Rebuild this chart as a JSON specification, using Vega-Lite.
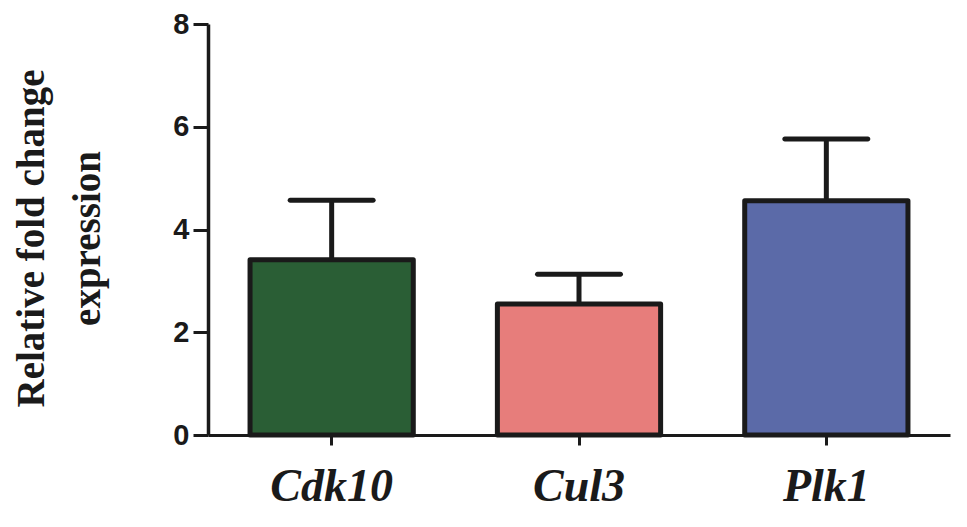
{
  "$schema": "https://vega.github.io/schema/vega-lite/v6.json",
  "width": 742,
  "height": 411,
  "autosize": {"type": "none"},
  "padding": {"left": 208, "top": 24, "right": 17, "bottom": 92},
  "background": "white",
  "config": {
    "view": {"stroke": null},
    "axis": {"grid": false, "domainColor": "#1a1a1a", "tickColor": "#1a1a1a", "labelColor": "#1a1a1a", "titleColor": "#1a1a1a"}
  },
  "data": {
    "values": [
      {"gene": "Cdk10", "value": 3.41, "upper": 4.57},
      {"gene": "Cul3", "value": 2.55, "upper": 3.13},
      {"gene": "Plk1", "value": 4.56, "upper": 5.76}
    ]
  },
  "encoding": {
    "x": {
      "field": "gene",
      "type": "nominal",
      "sort": ["Cdk10", "Cul3", "Plk1"],
      "scale": {"paddingInner": 0.34, "paddingOuter": 0.17},
      "axis": {
        "title": null,
        "labelAngle": 0,
        "domainWidth": 3,
        "tickWidth": 3,
        "tickSize": 10,
        "labelPadding": 55,
        "labelBaseline": "alphabetic",
        "labelFont": "Liberation Serif",
        "labelFontWeight": "bold",
        "labelFontStyle": "italic",
        "labelFontSize": 46
      }
    }
  },
  "layer": [
    {
      "mark": {"type": "rule", "stroke": "#1a1a1a", "strokeWidth": 5},
      "encoding": {
        "y": {"field": "value", "type": "quantitative"},
        "y2": {"field": "upper"}
      }
    },
    {
      "mark": {"type": "tick", "color": "#1a1a1a", "size": 88, "thickness": 5, "cornerRadius": 2.5, "opacity": 1},
      "encoding": {
        "y": {"field": "upper", "type": "quantitative"}
      }
    },
    {
      "mark": {"type": "bar", "stroke": "#1a1a1a", "strokeWidth": 5, "strokeJoin": "round"},
      "encoding": {
        "y": {
          "field": "value",
          "type": "quantitative",
          "scale": {"domain": [0, 8], "nice": false, "zero": true},
          "axis": {
            "values": [0, 2, 4, 6, 8],
            "domainWidth": 3.5,
            "tickWidth": 3,
            "tickSize": 15,
            "labelPadding": 4,
            "labelFont": "Liberation Sans",
            "labelFontWeight": "bold",
            "labelFontSize": 29,
            "title": ["Relative fold change", "expression"],
            "titleFont": "Liberation Serif",
            "titleFontWeight": "bold",
            "titleFontSize": 39,
            "titleLineHeight": 56,
            "titleAngle": -90,
            "titleAlign": "center",
            "titleBaseline": "alphabetic",
            "titleX": -165,
            "titleY": 214
          }
        },
        "color": {
          "field": "gene",
          "type": "nominal",
          "scale": {"domain": ["Cdk10", "Cul3", "Plk1"], "range": ["#2a5e35", "#e77d7b", "#5b6aa8"]},
          "legend": null
        }
      }
    }
  ]
}
